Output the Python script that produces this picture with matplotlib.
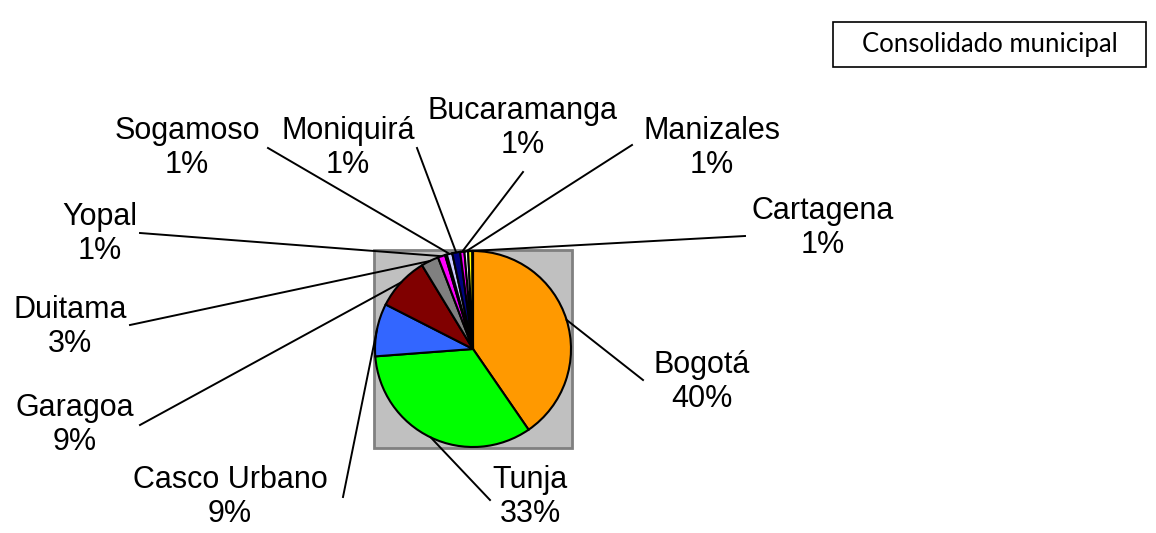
import matplotlib.pyplot as plt
import numpy as np
from matplotlib.patches import Rectangle

# data (percent of total), clockwise from 12 o'clock
ciudades = ['Bogotá', 'Tunja', 'Casco Urbano', 'Garagoa', 'Duitama', 'Yopal', '',
            'Sogamoso', 'Moniquirá', 'Bucaramanga', 'Manizales', 'Cartagena', '']
valores = [40.4, 33.4, 8.7, 8.8, 2.9, 1.2, 0.3, 0.9, 1.3, 0.7, 0.6, 0.7, 0.1]
colores = ['#FF9900', '#00FF00', '#3366FF', '#800000', '#808080', '#FF00FF', '#0066CC',
           '#CCCCFF', '#000080', '#FF00FF', '#FFFFFF', '#FFFF00', '#FFFFFF']

# label layout in pixels (text centre x, y from top; leader end x, y from top)
pos_texto = {
    'Bogotá': (702, 382, 643, 380),
    'Tunja': (530, 497, 490, 500),
    'Casco Urbano': (230, 497, 343, 497),
    'Garagoa': (75, 425, 140, 425),
    'Duitama': (70, 327, 130, 325),
    'Yopal': (100, 234, 140, 233),
    'Sogamoso': (187, 148, 268, 148),
    'Moniquirá': (348, 148, 417, 148),
    'Bucaramanga': (523, 128, 523, 172),
    'Manizales': (712, 148, 632, 145),
    'Cartagena': (823, 228, 745, 236),
}

W, H = 1156, 533
fig = plt.figure(figsize=(W / 100, H / 100), dpi=100)
ax = fig.add_axes([0, 0, 1, 1])

cx, cy, r = 473, H - 349, 98
ax.add_patch(Rectangle((cx - r - 1, cy - r - 1), 2 * r + 2, 2 * r + 2,
                       facecolor='#C0C0C0', edgecolor='#808080', lw=2, zorder=0))

wedges, _ = ax.pie(valores, colors=colores, startangle=90, counterclock=False,
                   center=(cx, cy), radius=r,
                   wedgeprops=dict(edgecolor='black', linewidth=1.5))

for w, nombre, v in zip(wedges, ciudades, valores):
    if not nombre:
        continue
    ang = np.deg2rad((w.theta1 + w.theta2) / 2)
    ax_, ay_ = cx + r * np.cos(ang), cy + r * np.sin(ang)
    tx, ty, ex, ey = pos_texto[nombre]
    ax.plot([ax_, ex], [ay_, H - ey], color='black', lw=1.4, zorder=5)
    ax.text(tx, H - ty, f'{nombre}\n{v / sum(valores) * 100:.0f}%', ha='center', va='center',
            fontsize=22, family='Liberation Sans', linespacing=1.2, zorder=6)

# title box
ax.add_patch(Rectangle((833, H - 67), 313, 45, facecolor='white', edgecolor='black', lw=1.2))
ax.text(989.5, H - 44.5, 'Consolidado municipal', ha='center', va='center',
        fontsize=18.5, family='Lato')

ax.set_xlim(0, W)
ax.set_ylim(0, H)
ax.set_aspect('equal')
ax.axis('off')

fig.savefig('out.png', dpi=100)
